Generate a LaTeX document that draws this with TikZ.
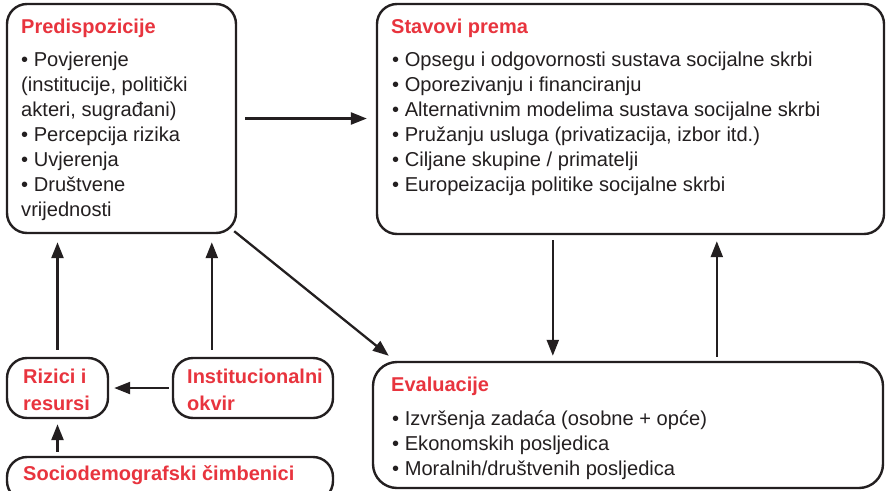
\documentclass[tikz,border=0pt]{standalone}
\usepackage{fontspec}
\setmainfont{Liberation Sans}
\usetikzlibrary{arrows.meta}
\definecolor{tred}{RGB}{232,52,62}
\definecolor{tink}{RGB}{35,31,32}
\begin{document}
\begin{tikzpicture}[x=1pt,y=1pt,
  box/.style={draw=tink, line width=2.4pt, rounded corners=#1, inner sep=0pt},
  box/.default=20pt,
  ttl/.style={anchor=base west, inner sep=0pt, text=tred, font={\fontsize{20}{27}\selectfont\bfseries}},
  body/.style={anchor=base west, inner sep=0pt, text=tink, font={\fontsize{20.1}{25}\selectfont}},
  arr/.style={draw=tink, line width=2.3pt, -{Triangle[length=16pt,width=12pt]}}]
\clip (0,0) rectangle (886,-490);
\fill[white] (0,0) rectangle (886,-490);
% boxes
\node[box, minimum width=229pt, minimum height=229pt] (pred) at (121.5,-118.5) {};
\node[box, minimum width=507pt, minimum height=230pt] (stav) at (630.5,-119) {};
\node[box=24pt, minimum width=510pt, minimum height=126pt] (eval) at (628,-425) {};
\node[box, minimum width=101pt, minimum height=60pt] (rizici) at (57.5,-388) {};
\node[box, minimum width=160pt, minimum height=60pt] (inst) at (253,-388) {};
\node[box, minimum width=326pt, minimum height=44pt] (socio) at (170,-479) {};
% texts
\node[ttl] (predT) at (21,-33) {Predispozicije};
\node[body] (predB) at (21,-66) {\begin{tabular}[t]{@{}l@{}}
• Povjerenje\\
(institucije, politički\\
akteri, sugrađani)\\
• Percepcija rizika\\
• Uvjerenja\\
• Društvene\\
vrijednosti
\end{tabular}};
\node[ttl] (stavT) at (391,-33) {Stavovi prema};
\node[body] (stavB) at (392,-66) {\begin{tabular}[t]{@{}l@{}}
• Opsegu i odgovornosti sustava socijalne skrbi\\
• Oporezivanju i financiranju\\
• Alternativnim modelima sustava socijalne skrbi\\
• Pružanju usluga (privatizacija, izbor itd.)\\
• Ciljane skupine / primatelji\\
• Europeizacija politike socijalne skrbi
\end{tabular}};
\node[ttl] (evalT) at (391,-391) {Evaluacije};
\node[body] (evalB) at (392,-425) {\begin{tabular}[t]{@{}l@{}}
• Izvršenja zadaća (osobne + opće)\\
• Ekonomskih posljedica\\
• Moralnih/društvenih posljedica
\end{tabular}};
\node[ttl] (rizT) at (23,-383) {\begin{tabular}[t]{@{}l@{}}Rizici i\\resursi\end{tabular}};
\node[ttl] (instT) at (187,-383) {\begin{tabular}[t]{@{}l@{}}Institucionalni\\okvir\end{tabular}};
\node[ttl] (socT) at (23,-480) {Sociodemografski čimbenici};
% helper coordinates
\coordinate (ia) at ([xshift=40pt]inst.north west);
\coordinate (sd) at ([xshift=177pt]stav.south west);
\coordinate (eu) at ([xshift=341pt]stav.south west);
% connectors
\draw[arr, shorten <=8pt, shorten >=9pt] (pred.east) -- (pred.east -| stav.west);
\draw[arr] ([shift={(-3pt,3pt)}]pred.south east) -- ([shift={(17pt,5pt)}]eval.north west);
\draw[arr, shorten <=7pt, shorten >=8pt] (rizici.north) -- (rizici.north |- pred.south);
\draw[arr, shorten <=7pt, shorten >=8pt] (ia) -- (ia |- pred.south);
\draw[arr, shorten <=3pt, shorten >=5pt] (inst.west) -- (rizici.east);
\draw[arr, shorten <=4pt, shorten >=5pt] (rizici.south |- socio.north) -- (rizici.south);
\draw[arr, shorten <=5pt, shorten >=5pt] (sd) -- (sd |- eval.north);
\draw[arr, shorten <=4pt, shorten >=6pt] (eu |- eval.north) -- (eu);
\end{tikzpicture}
\end{document}
